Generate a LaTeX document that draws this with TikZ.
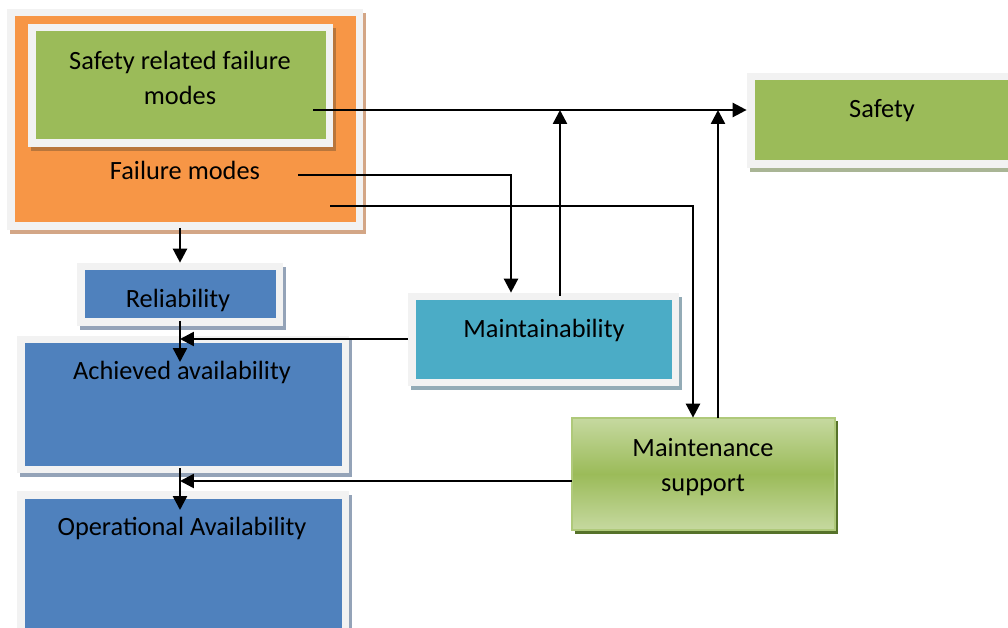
\documentclass[tikz,border=0pt]{standalone}
\usepackage{fontspec}
\setmainfont{Carlito}
\usetikzlibrary{arrows.meta,fit,calc}
\definecolor{frameg}{HTML}{F2F2F2}
\definecolor{orng}{HTML}{F79646}
\definecolor{grn}{HTML}{9BBB59}
\definecolor{grnlt}{HTML}{C6D9A0}
\definecolor{grndk}{HTML}{56722A}
\definecolor{blu}{HTML}{4F81BD}
\definecolor{teal}{HTML}{4BACC6}
\definecolor{shorng}{HTML}{D3A686}
\definecolor{shbrown}{HTML}{B9763C}
\definecolor{shgrn}{HTML}{A9B595}
\definecolor{shblu}{HTML}{94A3B8}
\definecolor{shteal}{HTML}{93ABB6}
\newcommand\framedbox[7]{% name, x1,y1,x2,y2, fill, shadow
  \fill[#7] (#2+3,#3+4) rectangle (#4+3,#5+4);
  \fill[frameg] (#2,#3) rectangle (#4,#5);
  \fill[#6] (#2+7.5,#3+7.5) rectangle (#4-7.5,#5-7.5);
  \coordinate (#1-a) at (#2,#3);
  \coordinate (#1-b) at (#4,#5);
  \node[fit=(#1-a)(#1-b),inner sep=0pt] (#1) {};
}
\tikzset{
  lbl/.style={font=\fontsize{15}{19.8}\selectfont,align=center,inner sep=0pt,text=black},
  arr/.style={line width=0.05cm,-{Triangle[length=0.28cm,width=0.28cm]}},
  ln/.style={line width=0.05cm}
}
\begin{document}
\begin{tikzpicture}[x=0.02cm,y=-0.02cm]
\useasboundingbox (0,0) rectangle (1008,628);
% boxes
\framedbox{fm}{7}{9}{363}{230}{orng}{shorng}
\framedbox{srfm}{28}{24}{333}{147}{grn}{shbrown}
\framedbox{safety}{747}{73}{1030}{168}{grn}{shgrn}
\framedbox{rel}{77}{263}{283}{326}{blu}{shblu}
\framedbox{ach}{17}{336}{349}{473}{blu}{shblu}
\framedbox{op}{17}{491}{349}{640}{blu}{shblu}
\framedbox{mtb}{408}{293}{679}{386}{teal}{shteal}
% maintenance support
\fill[grndk] (575,421) rectangle (838,534);
\shade[top color=grnlt,bottom color=grnlt,middle color=grn] (572,418) rectangle (835,530);
\draw[grn!80!white,line width=0.05cm] (572,418) rectangle (835,530);
\coordinate (ms-a) at (572,418);
\coordinate (ms-b) at (835,530);
\node[fit=(ms-a)(ms-b),inner sep=0pt] (ms) {};
% labels
\node[lbl] (t-srfm) at (180,78) {Safety related failure\\modes};
\node[lbl] (t-fm) at (185,170) {Failure modes};
\node[lbl] (t-safety) at (882,111) {Safety};
\node[lbl] (t-rel) at (178,300) {Reliability};
\node[lbl] (t-ach) at (182,372) {Achieved availability};
\node[lbl] (t-op) at (182,528) {Operational Availability};
\node[lbl] (t-mtb) at (544,330) {Maintainability};
\node[lbl] (t-ms) at (703,467) {Maintenance\\support};
% connector end points
\coordinate (s1) at (313,110);
\coordinate (s2) at (298,175);
\coordinate (s3) at (330,206);
\coordinate (fmb) at (180,228);
\coordinate (relb) at (180,321);
\coordinate (achb) at (180,468);
\coordinate (mtbtop) at (560,296);
\coordinate (mstop) at (718,418);
% connectors
\draw[arr] (s1) -- (s1 -| safety.west);
\draw[arr] (s2) -| (mtb.north -| 511,0);
\draw[arr] (s3) -| (ms.north -| 693,0);
\draw[arr] (mtbtop) -- (mtbtop |- s1);
\draw[arr] (mstop) -- (mstop |- s1);
\draw[arr] (fmb) -- (fmb |- rel.north);
\draw[arr] (relb) -- (180,362);
\draw[arr] (mtb.west |- 0,339) -- (180,339);
\draw[arr] (achb) -- (180,510);
\draw[arr] (ms.west |- 0,481) -- (180,481);
\end{tikzpicture}
\end{document}
